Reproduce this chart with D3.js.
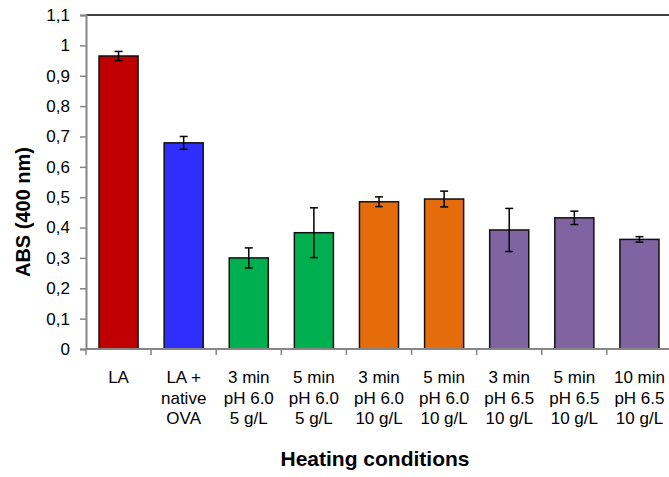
<!DOCTYPE html>
<html>
<head>
<meta charset="utf-8">
<script src="https://cdn.jsdelivr.net/npm/d3@7"></script>
<style>
	body { margin: 0; background: #fff; }
	text { font-family: "Liberation Sans", Arial, sans-serif; fill: #000; }
</style>
</head>
<body>
<svg id="chart"></svg>
<script>
const categories = [
	["LA"],
	["LA +", "native", "OVA"],
	["3 min", "pH 6.0", "5 g/L"],
	["5 min", "pH 6.0", "5 g/L"],
	["3 min", "pH 6.0", "10 g/L"],
	["5 min", "pH 6.0", "10 g/L"],
	["3 min", "pH 6.5", "10 g/L"],
	["5 min", "pH 6.5", "10 g/L"],
	["10 min", "pH 6.5", "10 g/L"]
];
const values = [0.965, 0.679, 0.300, 0.383, 0.485, 0.494, 0.392, 0.432, 0.361];
const errors = [0.015, 0.021, 0.033, 0.082, 0.016, 0.026, 0.071, 0.022, 0.009];
const colors = ["#C00000", "#2E2EFF", "#00B050", "#00B050", "#E46C0A", "#E46C0A", "#8064A2", "#8064A2", "#8064A2"];
const yTicks = [0, 0.1, 0.2, 0.3, 0.4, 0.5, 0.6, 0.7, 0.8, 0.9, 1, 1.1];

const width = 669, height = 477;
const margin = { top: 15, right: -3, bottom: 128, left: 86 };

const svg = d3.select("#chart").attr("width", width).attr("height", height);

const x = d3.scaleBand()
	.domain(d3.range(categories.length))
	.range([margin.left, width - margin.right])
	.paddingInner(0.4)
	.paddingOuter(0.2);

const y = d3.scaleLinear()
	.domain([0, 1.1])
	.range([height - margin.bottom, margin.top]);

const fmt = d => d3.format("~g")(d).replace(".", ",");

// top border of plot area
svg.append("line")
	.attr("x1", margin.left)
	.attr("x2", width - margin.right)
	.attr("y1", y(1.1))
	.attr("y2", y(1.1))
	.attr("stroke", "#000")
	.attr("stroke-width", 1.5);

// y axis
const yAxis = svg.append("g")
	.attr("transform", `translate(${margin.left},0)`)
	.call(d3.axisLeft(y).tickValues(yTicks).tickFormat(fmt).tickSize(6).tickPadding(10));
yAxis.select(".domain").attr("stroke", "#868686").attr("stroke-width", 2);
yAxis.selectAll(".tick line").attr("stroke", "#868686").attr("stroke-width", 1.5);
yAxis.selectAll(".tick text").attr("font-size", 17).attr("font-family", "Liberation Sans, Arial, sans-serif");

// bars
svg.selectAll(".bar")
	.data(values)
	.enter()
	.append("rect")
	.attr("class", "bar")
	.attr("x", (d, i) => x(i))
	.attr("y", d => y(d))
	.attr("width", x.bandwidth())
	.attr("height", d => y(0) - y(d))
	.attr("fill", (d, i) => colors[i])
	.attr("stroke", "#111")
	.attr("stroke-width", 1.5);

// error bars
const err = svg.selectAll(".err")
	.data(values)
	.enter()
	.append("g")
	.attr("class", "err")
	.attr("transform", (d, i) => `translate(${x(i) + x.bandwidth() / 2},0)`)
	.attr("stroke", "#000")
	.attr("stroke-width", 1.5);
err.append("line")
	.attr("y1", (d, i) => y(d + errors[i]))
	.attr("y2", (d, i) => y(d - errors[i]));
err.append("line")
	.attr("x1", -4).attr("x2", 4)
	.attr("y1", (d, i) => y(d + errors[i]))
	.attr("y2", (d, i) => y(d + errors[i]));
err.append("line")
	.attr("x1", -4).attr("x2", 4)
	.attr("y1", (d, i) => y(d - errors[i]))
	.attr("y2", (d, i) => y(d - errors[i]));

// x axis
const step = x.step();
const xAxis = svg.append("g").attr("transform", `translate(0,${y(0)})`);
xAxis.append("line")
	.attr("x1", margin.left)
	.attr("x2", width - margin.right)
	.attr("stroke", "#868686")
	.attr("stroke-width", 2);
xAxis.selectAll(".xtick")
	.data(d3.range(categories.length + 1))
	.enter()
	.append("line")
	.attr("class", "xtick")
	.attr("x1", i => margin.left + i * step)
	.attr("x2", i => margin.left + i * step)
	.attr("y1", 0)
	.attr("y2", 6)
	.attr("stroke", "#868686")
	.attr("stroke-width", 1.5);

const labels = svg.selectAll(".xlabel")
	.data(categories)
	.enter()
	.append("text")
	.attr("class", "xlabel")
	.attr("text-anchor", "middle")
	.attr("font-size", 17)
	.attr("transform", (d, i) => `translate(${x(i) + x.bandwidth() / 2},${y(0) + 34})`);
labels.selectAll("tspan")
	.data(d => d)
	.enter()
	.append("tspan")
	.attr("x", 0)
	.attr("y", (d, j) => j * 20.5)
	.text(d => d);

// axis titles
svg.append("text")
	.attr("x", 375)
	.attr("y", 466)
	.attr("text-anchor", "middle")
	.attr("font-size", 21)
	.attr("font-weight", "bold")
	.text("Heating conditions");

svg.append("text")
	.attr("transform", "translate(30,212) rotate(-90)")
	.attr("text-anchor", "middle")
	.attr("font-size", 20)
	.attr("font-weight", "bold")
	.text("ABS (400 nm)");
</script>
</body>
</html>
